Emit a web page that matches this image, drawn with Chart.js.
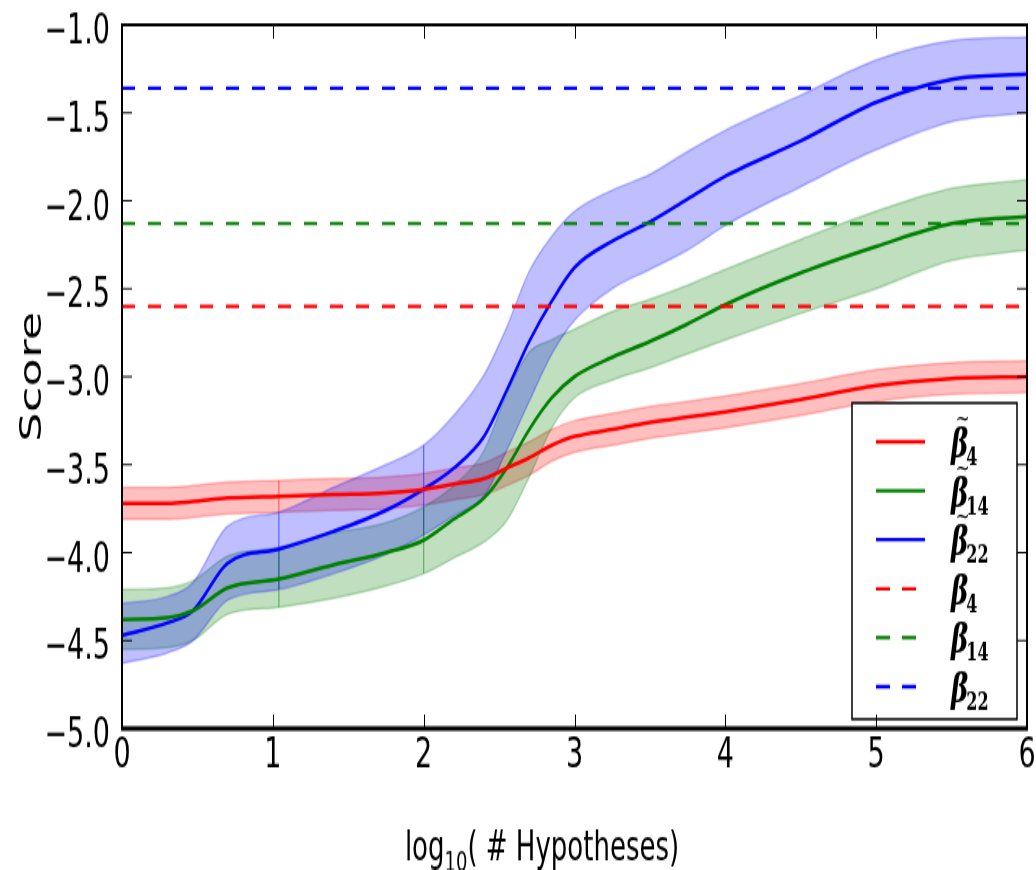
<!DOCTYPE html>
<html>
<head>
<meta charset="utf-8">
<script src="https://cdn.jsdelivr.net/npm/chart.js@4.4.0/dist/chart.umd.min.js"></script>
<style>
  html { overflow: hidden; }
  html, body { margin: 0; padding: 0; background: #fff; width: 1036px; height: 870px; }
  /* the figure is drawn at 1036x561 and stretched to full height */
  #wrap { width: 1036px; height: 561px; transform: scaleY(1.55); transform-origin: 0 0; }
</style>
</head>
<body>
<div id="wrap"><canvas id="scoreChart" width="1036" height="561"></canvas></div>
<script>
// log10(# hypotheses) sample points
const xs = [0, 0.3, 0.47, 0.7, 1.04, 1.4, 1.75, 2.0, 2.2, 2.4, 2.55, 2.7, 2.85, 3.0, 3.25, 3.5, 3.75, 4.0, 4.5, 5.0, 5.5, 6.0];

const redMean  = [-3.72, -3.72, -3.71, -3.69, -3.68, -3.67, -3.66, -3.64, -3.61, -3.58, -3.52, -3.46, -3.39, -3.34, -3.30, -3.26, -3.23, -3.20, -3.13, -3.05, -3.01, -3.00];
const redUpper = [-3.63, -3.63, -3.62, -3.60, -3.59, -3.58, -3.57, -3.55, -3.52, -3.49, -3.43, -3.37, -3.30, -3.25, -3.21, -3.17, -3.14, -3.11, -3.04, -2.96, -2.92, -2.91];
const redLower = [-3.81, -3.81, -3.80, -3.78, -3.77, -3.76, -3.75, -3.73, -3.70, -3.67, -3.62, -3.56, -3.48, -3.43, -3.39, -3.35, -3.32, -3.29, -3.22, -3.14, -3.10, -3.09];

const greenMean  = [-4.38, -4.37, -4.33, -4.20, -4.15, -4.07, -4.00, -3.93, -3.81, -3.69, -3.52, -3.30, -3.12, -3.00, -2.89, -2.80, -2.70, -2.59, -2.41, -2.26, -2.13, -2.09];
const greenUpper = [-4.21, -4.20, -4.16, -4.02, -3.97, -3.89, -3.83, -3.74, -3.62, -3.42, -3.10, -2.86, -2.79, -2.73, -2.63, -2.56, -2.48, -2.39, -2.22, -2.06, -1.93, -1.88];
const greenLower = [-4.55, -4.54, -4.50, -4.35, -4.31, -4.26, -4.19, -4.12, -4.03, -3.94, -3.82, -3.57, -3.29, -3.12, -3.02, -2.95, -2.87, -2.79, -2.64, -2.50, -2.34, -2.28];

const blueMean  = [-4.47, -4.40, -4.33, -4.06, -3.98, -3.88, -3.76, -3.64, -3.52, -3.34, -3.08, -2.80, -2.57, -2.38, -2.23, -2.12, -1.99, -1.86, -1.66, -1.44, -1.31, -1.28];
const blueUpper = [-4.29, -4.25, -4.17, -3.85, -3.77, -3.63, -3.50, -3.39, -3.22, -2.99, -2.72, -2.40, -2.20, -2.06, -1.94, -1.85, -1.72, -1.60, -1.40, -1.20, -1.09, -1.07];
const blueLower = [-4.63, -4.57, -4.50, -4.27, -4.21, -4.12, -4.01, -3.90, -3.79, -3.68, -3.42, -3.14, -2.87, -2.68, -2.50, -2.39, -2.28, -2.14, -1.92, -1.71, -1.55, -1.50];

// reference scores (dashed)
const redBaseline = -2.60;
const greenBaseline = -2.13;
const blueBaseline = -1.36;

// x positions where the shaded bands show a seam
const redSeams = [1.04];
const greenSeams = [1.04, 2.0];
const blueSeams = [1.04, 2.0];

const xTicks = [0, 1, 2, 3, 4, 5, 6];
const yTicks = [-5.0, -4.5, -4.0, -3.5, -3.0, -2.5, -2.0, -1.5, -1.0];

const RED = '#ff0000', GREEN = '#008000', BLUE = '#0000ff';
const rgba = (hex, a) => {
  const n = parseInt(hex.slice(1), 16);
  return `rgba(${n >> 16},${(n >> 8) & 255},${n & 255},${a})`;
};
const pts = ys => xs.map((x, i) => ({ x, y: ys[i] }));

function meanLine(ys, color) {
  return { data: pts(ys), borderColor: color, borderWidth: 2.5, pointRadius: 0,
           fill: false, cubicInterpolationMode: 'monotone', order: 2 };
}

function bandPair(upper, lower, color, order) {
  const common = { borderColor: rgba(color, 0.25), borderWidth: 1.5, pointRadius: 0,
                   cubicInterpolationMode: 'monotone', order };
  return [
    Object.assign({ data: pts(upper), fill: '+1', backgroundColor: rgba(color, 0.25) }, common),
    Object.assign({ data: pts(lower), fill: false }, common)
  ];
}

function seams(list, upper, lower, color) {
  return list.map(sx => {
    const i = xs.indexOf(sx);
    return { data: [{ x: sx, y: lower[i] }, { x: sx, y: upper[i] }], borderColor: rgba(color, 0.5),
             borderWidth: 1.2, pointRadius: 0, fill: false, order: 5 };
  });
}

function baseline(v, color) {
  return { data: [{ x: xTicks[0], y: v }, { x: xTicks[xTicks.length - 1], y: v }], borderColor: color,
           borderWidth: 2.2, borderDash: [13, 13], pointRadius: 0, fill: false, order: 0 };
}

const datasets = [
  ...bandPair(redUpper, redLower, RED, 13),
  ...bandPair(greenUpper, greenLower, GREEN, 12),
  ...bandPair(blueUpper, blueLower, BLUE, 11),
  ...seams(redSeams, redUpper, redLower, RED),
  ...seams(greenSeams, greenUpper, greenLower, GREEN),
  ...seams(blueSeams, blueUpper, blueLower, BLUE),
  meanLine(redMean, RED),
  meanLine(greenMean, GREEN),
  meanLine(blueMean, BLUE),
  baseline(redBaseline, RED),
  baseline(greenBaseline, GREEN),
  baseline(blueBaseline, BLUE)
];

const legendEntries = [
  { sub: '4', tilde: true, color: RED, dashed: false },
  { sub: '14', tilde: true, color: GREEN, dashed: false },
  { sub: '22', tilde: true, color: BLUE, dashed: false },
  { sub: '4', tilde: false, color: RED, dashed: true },
  { sub: '14', tilde: false, color: GREEN, dashed: true },
  { sub: '22', tilde: false, color: BLUE, dashed: true }
];

const fmt = v => (v < 0 ? '\u2212' : '') + Math.abs(v).toFixed(1);

// legend box, then the axes frame with inward ticks and the x axis title
const framePlugin = {
  id: 'frame',
  afterDatasetsDraw(chart) {
    const { ctx, chartArea: a } = chart;
    const bx = a.right - 175, by = a.bottom - 210, bw = 165, bh = 204;
    ctx.save();
    ctx.fillStyle = '#fff';
    ctx.fillRect(bx, by, bw, bh);
    ctx.strokeStyle = '#000';
    ctx.lineWidth = 1.5;
    ctx.strokeRect(bx, by, bw, bh);

    legendEntries.forEach((e, i) => {
      const ry = by + 25 + i * 31.6;
      ctx.strokeStyle = e.color;
      ctx.lineWidth = 2.3;
      ctx.setLineDash(e.dashed ? [14, 12] : []);
      ctx.beginPath();
      ctx.moveTo(bx + 24, ry);
      ctx.lineTo(bx + (e.dashed ? 64 : 73), ry);
      ctx.stroke();
      ctx.setLineDash([]);

      const tx = bx + 99;
      ctx.fillStyle = '#000';
      ctx.textBaseline = 'alphabetic';
      ctx.textAlign = 'left';
      ctx.font = 'bold italic 26px "DejaVu Serif"';
      ctx.fillText('\u03b2', tx, ry + 10);
      const bwid = ctx.measureText('\u03b2').width;
      if (e.tilde) {
        ctx.textAlign = 'center';
        ctx.font = '17px "DejaVu Serif"';
        ctx.fillText('~', tx + bwid / 2 + 3, ry - 10);
        ctx.textAlign = 'left';
      }
      ctx.font = 'bold 16px "DejaVu Serif"';
      ctx.fillText(e.sub, tx + bwid - 2, ry + 15);
    });
    ctx.restore();
  },
  afterDraw(chart) {
    const { ctx, chartArea: a, scales: { x, y } } = chart;
    ctx.save();
    ctx.strokeStyle = '#000';
    ctx.lineWidth = 1;
    ctx.beginPath();
    xTicks.slice(1, -1).forEach(v => {
      const px = Math.round(x.getPixelForValue(v)) + 0.5;
      ctx.moveTo(px, a.bottom); ctx.lineTo(px, a.bottom - 9);
      ctx.moveTo(px, a.top); ctx.lineTo(px, a.top + 9);
    });
    yTicks.slice(1, -1).forEach(v => {
      const py = y.getPixelForValue(v);
      ctx.moveTo(a.left, py); ctx.lineTo(a.left + 10, py);
      ctx.moveTo(a.right, py); ctx.lineTo(a.right - 10, py);
    });
    ctx.stroke();
    ctx.lineWidth = 2;
    ctx.strokeRect(a.left, a.top, a.right - a.left, a.bottom - a.top);
    ctx.lineWidth = 3;
    ctx.beginPath();
    ctx.moveTo(a.left - 1, a.bottom); ctx.lineTo(a.right + 1, a.bottom);
    ctx.stroke();

    // x axis title with a real subscript
    const parts = [['log', 26, 0], ['10', 18, 7], ['( # Hypotheses)', 26, 0]];
    let total = 0;
    parts.forEach(p => { ctx.font = `${p[1]}px "DejaVu Sans"`; total += ctx.measureText(p[0]).width; });
    let tx = 542 - total / 2;
    const base = 555;
    ctx.fillStyle = '#000';
    ctx.textAlign = 'left';
    ctx.textBaseline = 'alphabetic';
    parts.forEach(p => {
      ctx.font = `${p[1]}px "DejaVu Sans"`;
      ctx.fillText(p[0], tx, base + p[2]);
      tx += ctx.measureText(p[0]).width;
    });
    ctx.restore();
  }
};

const ctx = document.getElementById('scoreChart').getContext('2d');
new Chart(ctx, {
  type: 'line',
  data: { datasets },
  options: {
    responsive: false,
    animation: false,
    layout: { padding: { top: 16, right: 9, left: 0, bottom: 0 } },
    plugins: { legend: { display: false }, tooltip: { enabled: false } },
    scales: {
      x: {
        type: 'linear', min: 0, max: 6,
        afterBuildTicks: s => { s.ticks = xTicks.map(v => ({ value: v })); },
        afterFit: s => { s.height = 91; s.paddingLeft = 0; s.paddingRight = 0; },
        grid: { display: false, drawTicks: false },
        border: { display: false },
        ticks: { color: '#000', font: { family: '"DejaVu Sans"', size: 27 }, padding: 2, maxRotation: 0, autoSkip: false }
      },
      y: {
        type: 'linear', min: -5, max: -1,
        afterBuildTicks: s => { s.ticks = yTicks.map(v => ({ value: v })); },
        afterFit: s => { s.width = 122; s.paddingTop = 0; s.paddingBottom = 0; },
        grid: { display: false, drawTicks: false },
        border: { display: false },
        ticks: { color: '#000', font: { family: '"DejaVu Sans"', size: 27 }, padding: 12, labelOffset: 5, callback: fmt },
        title: { display: true, text: 'Score', color: '#000',
                 font: { family: '"DejaVu Sans"', size: 30 }, padding: { top: 15, bottom: 0 } }
      }
    }
  },
  plugins: [framePlugin]
});
</script>
</body>
</html>
